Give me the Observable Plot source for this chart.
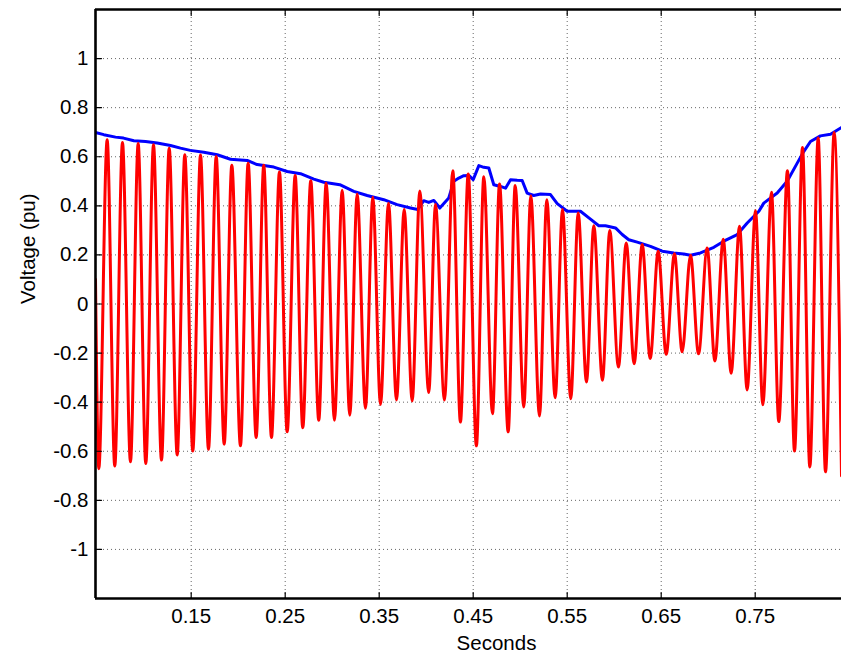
<!DOCTYPE html>
<html>
<head>
<meta charset="utf-8">
<script src="https://cdn.jsdelivr.net/npm/d3@7"></script>
<script src="https://cdn.jsdelivr.net/npm/@observablehq/plot@0.6"></script>
<style>
  html, body { margin: 0; padding: 0; background: #fff; overflow: hidden; }
  #chart svg { display: block; }
</style>
</head>
<body>
<div id="chart"></div>
<script>
// ---- Axis ticks ----
const xTicks = [0.15, 0.25, 0.35, 0.45, 0.55, 0.65, 0.75];
const xTickLabels = ["0.15", "0.25", "0.35", "0.45", "0.55", "0.65", "0.75"];
const yTicks = [-1, -0.8, -0.6, -0.4, -0.2, 0, 0.2, 0.4, 0.6, 0.8, 1];
const yTickLabels = ["-1", "-0.8", "-0.6", "-0.4", "-0.2", "0", "0.2", "0.4", "0.6", "0.8", "1"];
const xDomain = [0.0482, 0.8418];
const yDomain = [-1.2, 1.2];

// ---- Red waveform: start, half-cycle extrema, end ----
const waveStart = [0.0482, 0.10];
const waveEnd = [0.8418, -0.70];
const peakT = [0.0606,0.0769,0.0936,0.1099,0.1266,0.1432,0.1599,0.1766,0.1932,0.2106,0.2272,0.2439,0.2606,0.2772,0.2936,0.3106,0.3266,0.3432,0.3599,0.3766,0.3932,0.4099,0.4283,0.4447,0.4613,0.4780,0.4947,0.5113,0.5283,0.5450,0.5617,0.5783,0.5953,0.6128,0.6298,0.6468,0.6641,0.6812,0.6989,0.7160,0.7333,0.7503,0.7673,0.7843,0.8003,0.8170,0.8340];
const peakV = [0.669,0.658,0.654,0.649,0.635,0.608,0.607,0.601,0.565,0.574,0.565,0.538,0.524,0.502,0.492,0.463,0.448,0.435,0.411,0.385,0.460,0.405,0.543,0.530,0.518,0.489,0.483,0.441,0.425,0.385,0.371,0.319,0.299,0.249,0.242,0.215,0.205,0.199,0.228,0.264,0.317,0.380,0.455,0.543,0.638,0.676,0.699];
const troughT = [0.0517,0.0687,0.0854,0.1017,0.1184,0.1351,0.1517,0.1684,0.1851,0.2024,0.2191,0.2354,0.2521,0.2687,0.2857,0.3024,0.3187,0.3354,0.3514,0.3684,0.3851,0.4027,0.4194,0.4364,0.4534,0.4705,0.4872,0.5038,0.5205,0.5372,0.5538,0.5705,0.5875,0.6045,0.6212,0.6383,0.6553,0.6723,0.6897,0.7071,0.7244,0.7414,0.7581,0.7751,0.7918,0.8081,0.8248];
const troughV = [-0.671,-0.660,-0.643,-0.650,-0.636,-0.615,-0.599,-0.592,-0.571,-0.578,-0.544,-0.544,-0.521,-0.504,-0.474,-0.474,-0.453,-0.425,-0.409,-0.391,-0.395,-0.361,-0.391,-0.481,-0.578,-0.447,-0.521,-0.420,-0.456,-0.382,-0.386,-0.318,-0.311,-0.257,-0.243,-0.222,-0.205,-0.195,-0.203,-0.232,-0.282,-0.350,-0.411,-0.479,-0.599,-0.664,-0.684];

// ---- Blue envelope ----
const blueT = [0.0482,0.057,0.0695,0.078,0.089,0.1014,0.1138,0.128,0.1386,0.149,0.1634,0.1777,0.1918,0.2096,0.2202,0.2379,0.2521,0.2663,0.2805,0.2911,0.3081,0.3230,0.3372,0.3549,0.3691,0.3833,0.3911,0.3974,0.4027,0.4081,0.4145,0.4240,0.4294,0.4347,0.4400,0.4453,0.4500,0.4560,0.4613,0.4666,0.4719,0.4790,0.4844,0.4897,0.4968,0.5021,0.5074,0.5144,0.5216,0.5322,0.5394,0.5500,0.5641,0.5741,0.5836,0.5907,0.6014,0.6085,0.6155,0.6245,0.6386,0.6511,0.6634,0.6740,0.6812,0.6918,0.7060,0.7166,0.7309,0.7415,0.7539,0.7591,0.7734,0.7840,0.7947,0.8018,0.8088,0.8194,0.8301,0.8418];
const blueV = [0.699,0.690,0.680,0.676,0.665,0.662,0.656,0.646,0.635,0.626,0.618,0.608,0.590,0.585,0.568,0.558,0.540,0.531,0.509,0.496,0.486,0.459,0.442,0.425,0.405,0.391,0.385,0.421,0.414,0.422,0.391,0.432,0.500,0.513,0.523,0.524,0.507,0.564,0.557,0.554,0.486,0.479,0.472,0.506,0.504,0.503,0.452,0.442,0.448,0.446,0.409,0.378,0.378,0.348,0.319,0.319,0.310,0.283,0.262,0.252,0.235,0.215,0.208,0.204,0.199,0.208,0.231,0.256,0.283,0.330,0.378,0.411,0.452,0.500,0.574,0.622,0.662,0.685,0.692,0.719];

// ---- Build tables ----
const wave = [
  {t: waveStart[0], v: waveStart[1]},
  ...peakT.map((t, i) => ({t, v: peakV[i]})),
  ...troughT.map((t, i) => ({t, v: troughV[i]})),
  {t: waveEnd[0], v: waveEnd[1]}
].sort((a, b) => a.t - b.t);
const envelope = blueT.map((t, i) => ({t, v: blueV[i]}));

const tickShape = {draw(ctx, l) { ctx.moveTo(0, 0); ctx.lineTo(0, -l); }};
const gridStyle = {stroke: "#666", strokeOpacity: 1, strokeWidth: 1, strokeDasharray: "1,3"};

const chart = Plot.plot({
  width: 841,
  height: 656,
  marginLeft: 95,
  marginRight: 0,
  marginTop: 9,
  marginBottom: 58,
  style: {fontFamily: "'Liberation Sans', Arial, sans-serif", fontSize: "20.5px", color: "#000", background: "#fff"},
  x: {domain: xDomain, label: null},
  y: {domain: yDomain, label: null},
  marks: [
    Plot.gridX(xTicks, gridStyle),
    Plot.gridY(yTicks, gridStyle),
    Plot.line(envelope, {x: "t", y: "v", stroke: "#0000ff", strokeWidth: 3, clip: true}),
    Plot.line(wave, {x: "t", y: "v", stroke: "#ff0000", strokeWidth: 3, curve: "monotone-x", clip: true}),
    // inward ticks
    Plot.vector(xTicks, {x: d => d, y: () => yDomain[0], length: 6, rotate: 0, shape: tickShape, anchor: "start", stroke: "#000", strokeWidth: 1.2}),
    Plot.vector(xTicks, {x: d => d, y: () => yDomain[1], length: 6, rotate: 180, shape: tickShape, anchor: "start", stroke: "#000", strokeWidth: 1.2}),
    Plot.vector(yTicks, {x: () => xDomain[0], y: d => d, length: 6, rotate: 90, shape: tickShape, anchor: "start", stroke: "#000", strokeWidth: 1.2}),
    // tick labels
    Plot.axisX(xTicks, {tickSize: 0, tickPadding: 10, tickFormat: d => xTickLabels[xTicks.indexOf(d)], label: null}),
    Plot.axisY(yTicks, {tickSize: 0, tickPadding: 7, tickFormat: d => yTickLabels[yTicks.indexOf(d)], label: null}),
    // frame
    Plot.ruleX([xDomain[0]], {stroke: "#000", strokeWidth: 2.6}),
    Plot.ruleY([yDomain[0], yDomain[1]], {stroke: "#000", strokeWidth: 2.6}),
    // axis titles
    Plot.text(["Seconds"], {text: d => d, frameAnchor: "bottom", dx: 28, dy: 51, fontSize: 20.5, fill: "#000"}),
    Plot.text(["Voltage (pu)"], {text: d => d, frameAnchor: "left", dx: -67, rotate: -90, fontSize: 20.5, fill: "#000"})
  ]
});
document.getElementById("chart").appendChild(chart);
</script>
</body>
</html>
